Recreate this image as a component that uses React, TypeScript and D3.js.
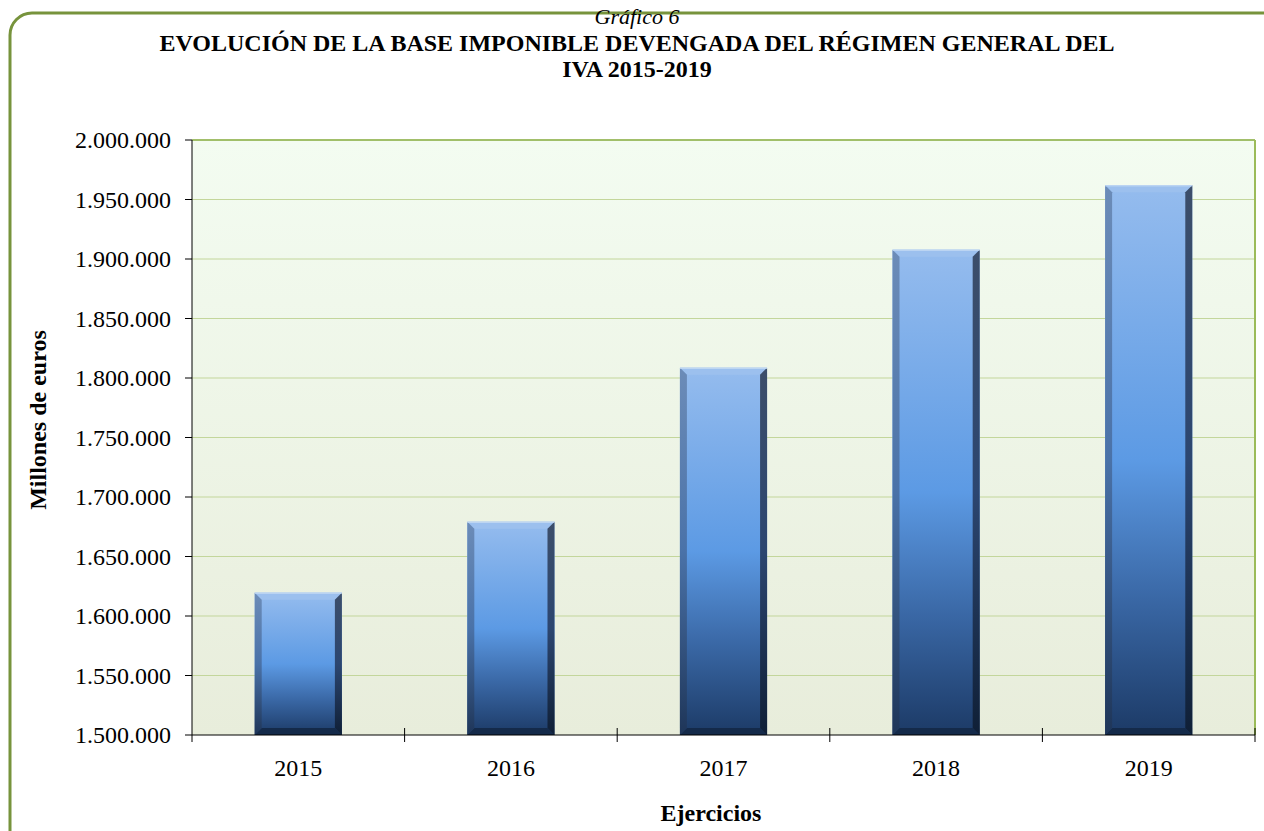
import React from "react";
import * as d3 from "d3";

const years = ["2015", "2016", "2017", "2018", "2019"];
const values = [1619600, 1679200, 1808600, 1907800, 1961900];
const yTicks = [1500000, 1550000, 1600000, 1650000, 1700000, 1750000, 1800000, 1850000, 1900000, 1950000, 2000000];

const W = 1264, H = 831;
const left = 192, right = 1255, top = 140, bottom = 735;
const FONT = "'Liberation Serif', 'Times New Roman', serif";

const fmt = (v: number) => d3.format(",")(v).replace(/,/g, ".");

export default function App() {
  const x = d3.scaleBand<string>().domain(years).range([left, right]).paddingInner(0.59).paddingOuter(0.295);
  const y = d3.scaleLinear().domain([1500000, 2000000]).range([bottom, top]);
  const bw = x.bandwidth();
  const b = 7;
  return (
    <svg width={W} height={H} style={{ position: "absolute", left: 0, top: 0, background: "#fff" }}>
      <defs>
        <linearGradient id="plotBg" x1="0" y1="0" x2="0" y2="1">
          <stop offset="0" stopColor="#f3fcf1" />
          <stop offset="1" stopColor="#e8eddb" />
        </linearGradient>
        <linearGradient id="barFace" x1="0" y1="0" x2="0" y2="1">
          <stop offset="0" stopColor="#95bcee" />
          <stop offset="0.5" stopColor="#5c9ae4" />
          <stop offset="0.75" stopColor="#3a68a6" />
          <stop offset="1" stopColor="#1c3a66" />
        </linearGradient>
        <linearGradient id="bevL" x1="0" y1="0" x2="0" y2="1">
          <stop offset="0" stopColor="#6c8cb8" />
          <stop offset="0.5" stopColor="#4a72a8" />
          <stop offset="1" stopColor="#1e3558" />
        </linearGradient>
        <linearGradient id="bevR" x1="0" y1="0" x2="0" y2="1">
          <stop offset="0" stopColor="#3c4e6a" />
          <stop offset="0.5" stopColor="#2c4670" />
          <stop offset="1" stopColor="#0f1f36" />
        </linearGradient>
      </defs>
      <rect x={10} y={13} width={W + 40} height={H + 40} rx={22} ry={22} fill="none" stroke="#77933c" strokeWidth={3} />
      <text x={637} y={24} textAnchor="middle" fontFamily={FONT} fontSize={22} fontStyle="italic">Gráfico 6</text>
      <text x={637} y={51} textAnchor="middle" fontFamily={FONT} fontSize={24} fontWeight="bold">EVOLUCIÓN DE LA BASE IMPONIBLE DEVENGADA DEL RÉGIMEN GENERAL DEL</text>
      <text x={637} y={77} textAnchor="middle" fontFamily={FONT} fontSize={24} fontWeight="bold">IVA 2015-2019</text>

      <rect x={left} y={top} width={right - left} height={bottom - top} fill="url(#plotBg)" />
      {yTicks.slice(1).map((t) => (
        <line key={t} x1={left} x2={right} y1={y(t)} y2={y(t)} stroke="#c3d69b" strokeWidth={1} />
      ))}
      <line x1={left} x2={right} y1={top} y2={top} stroke="#8db04a" strokeWidth={1.5} />
      <line x1={right} x2={right} y1={top} y2={bottom} stroke="#9bbb59" strokeWidth={2} />

      {years.map((yr, i) => {
        const x0 = x(yr)!;
        const x1 = x0 + bw;
        const y0 = y(values[i]);
        const y1 = bottom;
        return (
          <g key={yr}>
            <rect x={x0} y={y0} width={bw} height={y1 - y0} fill="url(#barFace)" />
            <polygon points={`${x0},${y0} ${x1},${y0} ${x1 - b},${y0 + b} ${x0 + b},${y0 + b}`} fill="#9cc0ee" />
            <polygon points={`${x0},${y1} ${x1},${y1} ${x1 - b},${y1 - b} ${x0 + b},${y1 - b}`} fill="#142a4a" />
            <polygon points={`${x0},${y0} ${x0 + b},${y0 + b} ${x0 + b},${y1 - b} ${x0},${y1}`} fill="url(#bevL)" />
            <polygon points={`${x1},${y0} ${x1 - b},${y0 + b} ${x1 - b},${y1 - b} ${x1},${y1}`} fill="url(#bevR)" />
            <line x1={x0} x2={x1} y1={y0 + 0.5} y2={y0 + 0.5} stroke="#c8dcf4" strokeWidth={1} />
          </g>
        );
      })}

      <line x1={left} x2={left} y1={top} y2={bottom} stroke="#000" strokeWidth={1} />
      <line x1={left} x2={right} y1={bottom} y2={bottom} stroke="#000" strokeWidth={1} />
      {yTicks.map((t) => (
        <g key={t}>
          <line x1={left - 7} x2={left} y1={y(t)} y2={y(t)} stroke="#000" />
          <text x={171} y={y(t) + 8} textAnchor="end" fontFamily={FONT} fontSize={24}>{fmt(t)}</text>
        </g>
      ))}
      {years.map((yr, i) => (
        <g key={"t" + yr}>
          <line x1={left + (i + 1) * (right - left) / 5} x2={left + (i + 1) * (right - left) / 5} y1={bottom - 7} y2={bottom + 7} stroke="#000" />
          <text x={x(yr)! + bw / 2} y={776} textAnchor="middle" fontFamily={FONT} fontSize={24}>{yr}</text>
        </g>
      ))}
      <line x1={left} x2={left} y1={bottom} y2={bottom + 7} stroke="#000" />
      <text x={711} y={821} textAnchor="middle" fontFamily={FONT} fontSize={24} fontWeight="bold">Ejercicios</text>
      <text transform={`translate(46,420) rotate(-90)`} textAnchor="middle" fontFamily={FONT} fontSize={24} fontWeight="bold">Millones de euros</text>
    </svg>
  );
}
